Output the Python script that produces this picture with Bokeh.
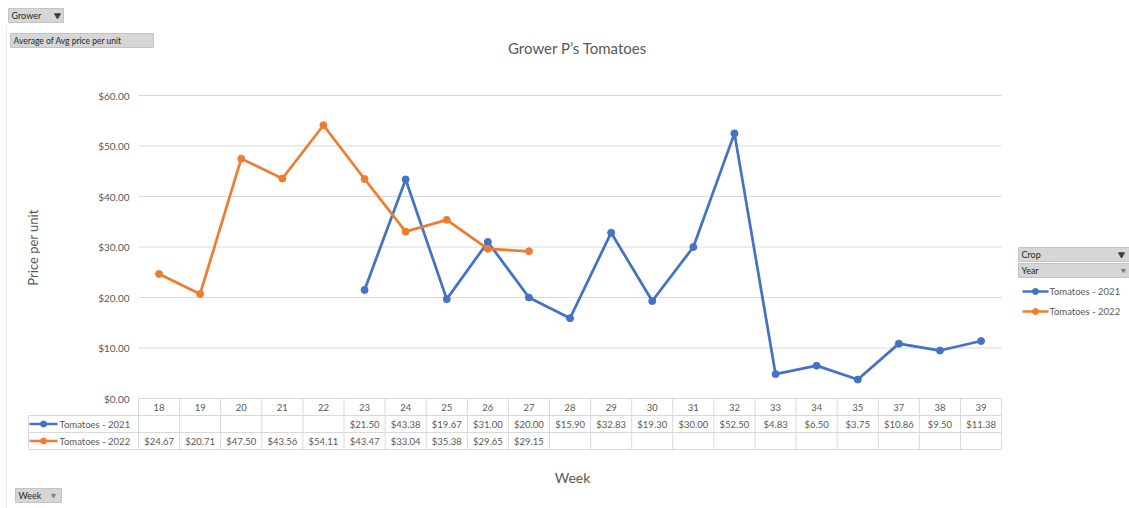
import math
from bokeh.plotting import figure
from bokeh.models import Range1d
from bokeh.embed import file_html
from bokeh.resources import INLINE
from bokeh.core.properties import value

# ---------------- data ----------------
title_text = "Grower P\u2019s Tomatoes"
y_axis_title = "Price per unit"
x_axis_title = "Week"
weeks = [18, 19, 20, 21, 22, 23, 24, 25, 26, 27, 28, 29, 30, 31, 32, 33, 34, 35, 37, 38, 39]
weeks_2021 = [23, 24, 25, 26, 27, 28, 29, 30, 31, 32, 33, 34, 35, 37, 38, 39]
prices_2021 = [21.50, 43.38, 19.67, 31.00, 20.00, 15.90, 32.83, 19.30, 30.00, 52.50,
               4.83, 6.50, 3.75, 10.86, 9.50, 11.38]
weeks_2022 = [18, 19, 20, 21, 22, 23, 24, 25, 26, 27]
prices_2022 = [24.67, 20.71, 47.50, 43.56, 54.11, 43.47, 33.04, 35.38, 29.65, 29.15]
series_names = ["Tomatoes - 2021", "Tomatoes - 2022"]
series_colors = ["#4472C4", "#ED7D31"]
y_ticks = [0, 10, 20, 30, 40, 50, 60]
filter_buttons = ["Grower", "Average of Avg price per unit", "Week", "Crop", "Year"]

# ---------------- layout (page pixels) ----------------
W, H = 1129, 508
OFF = 0
COL0, COLW = 138.0, 41.1      # left edge of the first week column, column width
Y0, PPD = 398.0, 5.05         # page y of $0, pixels per dollar
N = len(weeks)

def X(px):
    return -0.5 + (px - COL0) / COLW

def Y(py):
    return (Y0 - py) / PPD

x_start = X(OFF)
x_end = X(OFF + W)
y_end = Y(OFF)
y_start = Y(OFF + H)

FONT = value("Lato")
GREY_TXT = "#595959"
GRID = "#D9D9D9"

p = figure(width=W, height=H, x_range=Range1d(x_start, x_end), y_range=Range1d(y_start, y_end),
           output_backend="svg", toolbar_location=None, min_border=0,
           x_axis_location=None, y_axis_location=None, outline_line_color=None,
           background_fill_color="white", border_fill_color="white")
p.title.visible = False
p.xgrid.visible = False
p.ygrid.visible = False

def idx(ws):
    return [weeks.index(w) for w in ws]

def txt(x, y, t, size, color=GREY_TXT, align="center", baseline="middle", angle=0.0, style="normal"):
    p.text(x=x, y=y, text=t, text_font=FONT, text_font_size=value(size), text_color=color,
           text_align=align, text_baseline=baseline, angle=angle, text_font_style=style)

# faint chart-area border on the left
p.segment(x0=[X(6)], x1=[X(6)], y0=[Y(26)], y1=[Y(508)], line_color="#EBEBEB", line_width=1)

# gridlines + y tick labels
left_edge, right_edge = X(COL0), X(COL0 + N * COLW)
p.segment(x0=[left_edge] * len(y_ticks), x1=[right_edge] * len(y_ticks), y0=y_ticks, y1=y_ticks,
          line_color=GRID, line_width=1)
txt([X(129)] * len(y_ticks), y_ticks, [f"${t:.2f}" for t in y_ticks], "10px", align="right")

# ---------------- data table ----------------
row_lines = [Y(415), Y(432), Y(449)]
p.segment(x0=[X(28)] * 3, x1=[right_edge] * 3, y0=row_lines, y1=row_lines, line_color=GRID, line_width=1)
vx = [-0.5 + k for k in range(N + 1)]
p.segment(x0=vx, x1=vx, y0=[0] * len(vx), y1=[Y(449)] * len(vx), line_color=GRID, line_width=1)
p.segment(x0=[X(28)], x1=[X(28)], y0=[Y(415)], y1=[Y(449)], line_color=GRID, line_width=1)

txt(list(range(N)), [Y(407)] * N, [str(w) for w in weeks], "9.5px")
row_y = [Y(423.5), Y(440.5)]
for k, (ws, ps) in enumerate([(weeks_2021, prices_2021), (weeks_2022, prices_2022)]):
    txt(idx(ws), [row_y[k]] * len(ws), [f"${v:.2f}" for v in ps], "9.5px")
    p.segment(x0=[X(29)], x1=[X(57)], y0=[row_y[k]], y1=[row_y[k]], line_color=series_colors[k], line_width=2.5)
    p.scatter(x=[X(43)], y=[row_y[k]], size=6, color=series_colors[k])
    txt([X(59)], [row_y[k]], [series_names[k]], "9.5px", align="left")

# ---------------- series ----------------
for ws, ps, c in [(weeks_2021, prices_2021, series_colors[0]), (weeks_2022, prices_2022, series_colors[1])]:
    p.line(x=idx(ws), y=ps, line_color=c, line_width=2.75, line_join="round")
    p.scatter(x=idx(ws), y=ps, size=7, color=c)

# ---------------- titles ----------------
txt([X(577)], [Y(47)], [title_text], "15px")
txt([X(32)], [Y(247)], [y_axis_title], "13px", angle=math.pi / 2)
txt([X(572)], [Y(477)], [x_axis_title], "14px")

# ---------------- filter buttons ----------------
BTN_FILL, BTN_LINE, BTN_TXT = "#D6D6D6", "#C4C4C4", "#262626"
btn_boxes = [(8, 63, 8, 22), (10, 153, 33, 47), (15, 61, 488, 502), (1018, 1129, 247, 261), (1018, 1129, 263, 277)]
for (l, r, t, b), label in zip(btn_boxes, filter_buttons):
    p.quad(left=[X(l)], right=[X(r)], top=[Y(t)], bottom=[Y(b)], fill_color=BTN_FILL, line_color=BTN_LINE)
    size = "8.5px" if label.startswith("Average") else "9px"
    txt([X(l + 3)], [Y((t + b) / 2)], [label], size, color=BTN_TXT, align="left")
# funnel / dropdown marks
p.scatter(x=[X(57), X(1121)], y=[Y(15), Y(254)], marker="inverted_triangle", size=6, color="#404040")
p.scatter(x=[X(53), X(1123)], y=[Y(495), Y(270)], marker="inverted_triangle", size=4, color="#808080")

# ---------------- legend ----------------
leg_y = [Y(291), Y(311)]
for k in range(2):
    p.segment(x0=[X(1022)], x1=[X(1048)], y0=[leg_y[k]], y1=[leg_y[k]], line_color=series_colors[k], line_width=2.5)
    p.scatter(x=[X(1035)], y=[leg_y[k]], size=6, color=series_colors[k])
    txt([X(1049)], [leg_y[k]], [series_names[k]], "9.5px", align="left")

open("out.html", "w").write(file_html(p, INLINE))
